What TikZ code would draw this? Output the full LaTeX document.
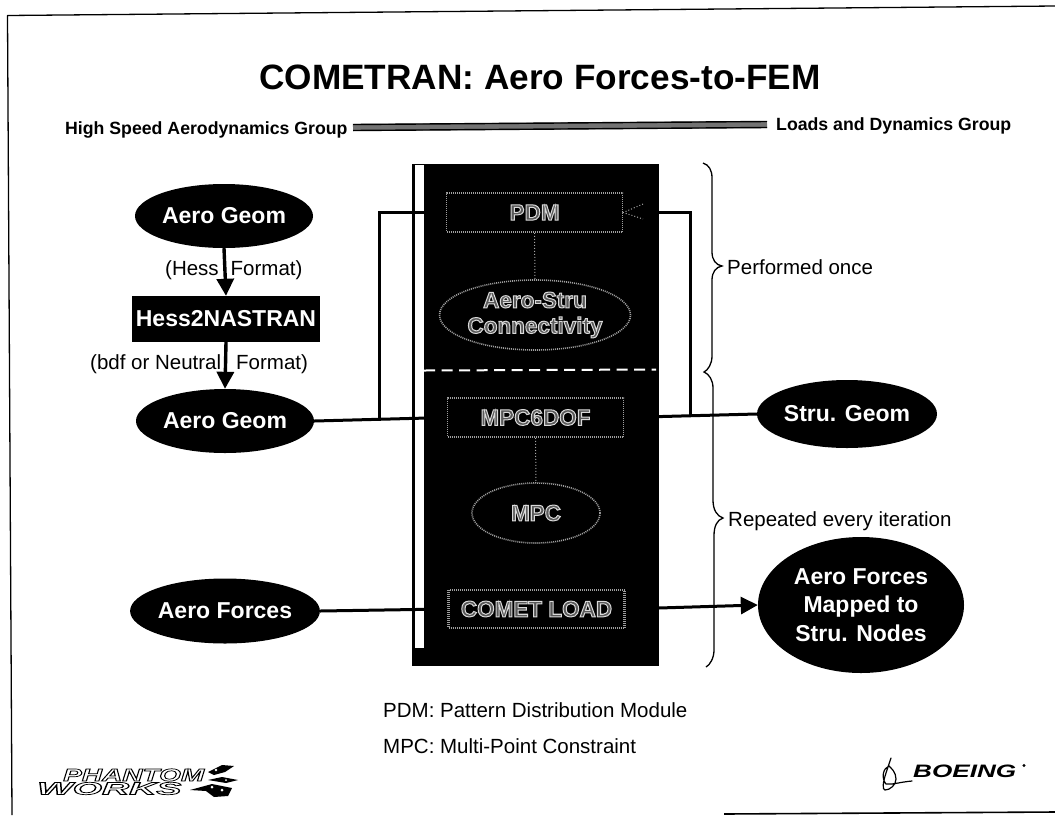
\documentclass[tikz,border=0pt]{standalone}
\usepackage{fontspec}
\usepackage{graphicx}
\usetikzlibrary{arrows.meta,shapes.geometric}
\setmainfont{Liberation Sans}
\newcommand{\fsz}[1]{\fontsize{#1}{#1}\selectfont}
\newcommand{\dither}[1]{\special{pdf:code q 2 Tr 1.0 w 0.85 G 0.35 g}#1\special{pdf:code Q}}
\newcommand{\inked}[1]{\special{pdf:code q 2 Tr 0.7 w 0 G 1 g}#1\special{pdf:code Q}}
\tikzset{
  blob/.style={ellipse,fill=black,text=white,inner sep=0pt,font=\bfseries\fsz{23},align=center},
  box/.style={rectangle,fill=black,text=white,inner sep=0pt,font=\bfseries\fsz{23}},
  ghostbox/.style={rectangle,draw=gray!75,line width=1.6pt,dash pattern=on 1pt off 1pt,inner sep=0pt,minimum width=176pt,minimum height=39pt,font=\bfseries\fsz{22.5}},
  ghostblob/.style={ellipse,draw=gray!75,line width=1.6pt,dash pattern=on 1pt off 1pt,inner sep=0pt,font=\bfseries\fsz{22.5},align=center},
  lbl/.style={anchor=base west,inner sep=0pt,font=\fsz{20.5}},
  link/.style={line width=3pt,black},
  flow/.style={line width=3.4pt,black,-{Triangle[length=17pt,width=17pt]}},
  ghostlink/.style={line width=1pt,gray!70,dash pattern=on 1pt off 2pt},
  curly/.style={line width=1.3pt,black}
}
\begin{document}
\begin{tikzpicture}[x=1pt,y=-1pt]
\useasboundingbox (0,0) rectangle (1055,815);
% page frame
\coordinate (fa) at (1055,6);
\coordinate (fb) at (7.5,15.5);
\coordinate (fc) at (12,815);
\coordinate (fd) at (724,814);
\coordinate (fe) at (1055,812);
\draw[line width=1.3pt,line join=round] (fa) -- (fb) -- (fc);
\draw[line width=1.6pt] (fd) -- (fe);
% title and group bar
\node[inner sep=0pt,anchor=base,font=\bfseries\fsz{35.2}] (title) at (540,89) {COMETRAN: Aero Forces-to-FEM};
\node[lbl,font=\bfseries\fsz{17.7}] (hsag) at (65,134) {High Speed Aerodynamics Group};
\node[lbl,font=\bfseries\fsz{17.7}] (ldg) at (776,130) {Loads and Dynamics Group};
\coordinate (bl) at (353,127.5);
\coordinate (br) at (767,124.5);
\draw[line width=7pt,black!55] (bl) -- (br);
\draw[line width=1.4pt,black] ([yshift=-3pt]bl) -- ([yshift=-3pt]br);
\draw[line width=1.4pt,black] ([yshift=3pt]bl) -- ([yshift=3pt]br);
% central block
\node[rectangle,fill=black,inner sep=0pt,minimum width=247pt,minimum height=502pt] (block) at (535,414.5) {};
\node[rectangle,fill=white,inner sep=0pt,minimum width=9.5pt,minimum height=483pt] (strip) at (419.5,406.5) {};
\coordinate (dl) at (424,370.5);
\coordinate (dr) at (656,369.5);
\draw[white,line width=2pt,dash pattern=on 11pt off 6.5pt] (dl) -- (dr);
% module nodes
\node[ghostbox] (pdm) at (534.5,212.5) {\dither{PDM}};
\node[ghostblob,minimum width=186pt,minimum height=70pt] (conn) at (535,315) {\dither{Aero-Stru}\\[3pt]\dither{Connectivity}};
\node[ghostbox] (dof) at (535.5,417.5) {\dither{MPC6DOF}};
\node[ghostblob,minimum width=128pt,minimum height=60pt] (mpc) at (536,513) {\dither{MPC}};
\node[ghostbox,line width=2.6pt,minimum height=38pt] (comet) at (536.5,609) {\dither{COMET LOAD}};
% left column
\node[blob,minimum width=178pt,minimum height=64pt] (geomA) at (224,216) {Aero Geom};
\node[box,minimum width=188pt,minimum height=46pt] (hess) at (226,319) {Hess2NASTRAN};
\node[blob,minimum width=178pt,minimum height=64pt] (geomB) at (225,421) {Aero Geom};
\node[blob,minimum width=178pt,minimum height=65pt] (forces) at (225,611) {Aero Forces};
% right column
\node[blob,minimum width=180pt,minimum height=68pt] (stru) at (847,414) {Stru. Geom};
\node[blob,minimum width=206pt,minimum height=136pt,font=\bfseries\fontsize{23}{28.5}\selectfont] (mapped) at (861,605) {Aero Forces\\Mapped to\\Stru. Nodes};
% connectors
\draw[flow] (geomA.south) -- (hess.north);
\draw[flow] (hess.south) -- (geomB.north);
\coordinate (jl) at (379,419);
\coordinate (jr) at (690,417);
\draw[link] (geomB.east) -- (dof.west);
\draw[link,line join=miter] (jl) |- (pdm.west);
\draw[link] (dof.east) -- (stru.west);
\draw[link,line join=miter] (jr) |- (pdm.east);
\draw[link] (forces.east) -- (comet.west);
\draw[flow,line width=3pt] (comet.east) -- (mapped.west);
\draw[ghostlink] (pdm.south) -- (conn.north);
\draw[ghostlink] (dof.south) -- (mpc.north);
\coordinate (ga) at (643,204);
\coordinate (gb) at (643,219);
\draw[ghostlink] (ga) -- (pdm.east) -- (gb);
% braces
\coordinate (b1a) at (703,163);
\coordinate (b1t) at (722,266);
\coordinate (b1c) at (704,372);
\coordinate (b2t) at (723,518);
\coordinate (b2e) at (706,667);
\draw[curly] (b1a) .. controls (709,165) and (712,170) .. (712,178) -- (712,252) .. controls (712,260) and (716,265) .. (b1t)
  .. controls (716,267) and (712,272) .. (712,280) -- (712,356) .. controls (712,364) and (708,370) .. (b1c)
  .. controls (709,374) and (713,380) .. (713,388) -- (713,500) .. controls (713,510) and (717,516) .. (b2t)
  .. controls (717,520) and (714,526) .. (714,536) -- (714,650) .. controls (714,658) and (710,665) .. (b2e);
% plain labels
\node[lbl] (once) at (727,274) {Performed once};
\node[lbl] (rep) at (728,526) {Repeated every iteration};
\node[lbl] (hf) at (165,275) {(Hess\hspace{12pt}Format)};
\node[lbl] (nf) at (90,369) {(bdf or Neutral\hspace{15pt}Format)};
\node[lbl] (pdef) at (383,717) {PDM: Pattern Distribution Module};
\node[lbl] (mdef) at (383,753) {MPC: Multi-Point Constraint};
% Phantom Works logo
\node[anchor=base west,inner sep=0pt,font=\bfseries\itshape\fsz{17.5}] (ph) at (63,781) {\scalebox{1.6}[1]{\inked{PHANTOM}}};
\node[anchor=base west,inner sep=0pt,font=\bfseries\itshape\fsz{17.5}] (wk) at (37,794.5) {\scalebox{2.15}[1]{\inked{WORKS}}};
\fill (208,772) -- (222,765) -- (234,766) -- (225,772) -- (214,775) -- cycle;
\fill (208,780) -- (222,777) -- (238,780) -- (226,783) -- cycle;
\fill (190,790) -- (212,784) -- (232,788) -- (228,796) -- (214,797) -- (206,791) -- cycle;
\fill[white] (212,787) circle (1.5pt) (222,790) circle (1.5pt) (216,770) circle (1.3pt) (226,780) circle (1pt);
% Boeing logo
\node[anchor=base west,inner sep=0pt,font=\bfseries\itshape\fsz{18}] (boe) at (913,777) {\scalebox{1.45}[1]{BOEING}};
\fill (1024,765.5) circle (1.6pt);
\draw[line width=1.2pt,line cap=round] (891,758) -- (886,773) .. controls (883,782) and (882,790) .. (885,790) .. controls (890,790) and (896,785) .. (896,779) .. controls (896,772) and (891,768) .. (889,766) .. controls (883,768) and (881,778) .. (886,784) .. controls (892,785) and (900,782) .. (912,781);
\end{tikzpicture}
\end{document}
